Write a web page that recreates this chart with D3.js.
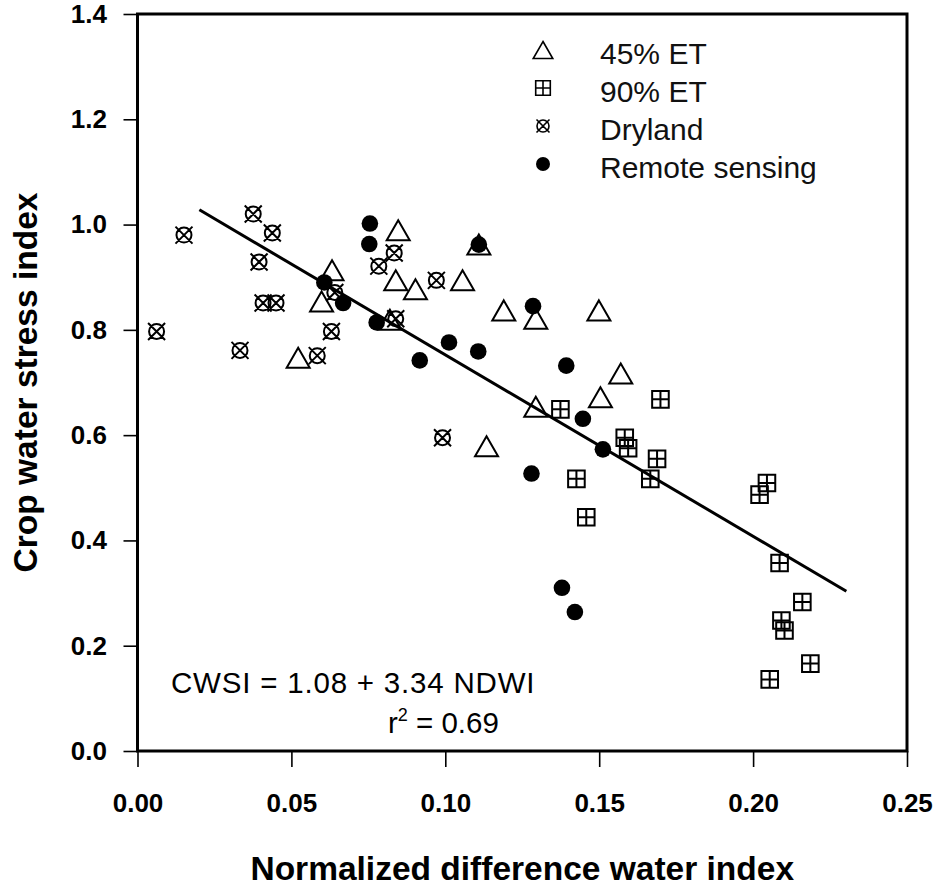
<!DOCTYPE html>
<html>
<head>
<meta charset="utf-8">
<script src="https://cdn.jsdelivr.net/npm/d3@7"></script>
<style>
  body { margin: 0; background: #fff; }
  svg { display: block; font-family: "Liberation Sans", Arial, sans-serif; }
</style>
</head>
<body>
<svg width="939" height="888"></svg>
<script>
const svg = d3.select("svg");

// Data: [NDWI, CWSI]
const et45 = [
  [0.0522, 0.747], [0.0598, 0.854], [0.0632, 0.913], [0.0820, 0.819],
  [0.0839, 0.894], [0.0847, 0.989], [0.0903, 0.877], [0.1056, 0.894],
  [0.1109, 0.962], [0.1190, 0.837], [0.1294, 0.821], [0.1294, 0.654],
  [0.1134, 0.579], [0.1499, 0.837], [0.1570, 0.717], [0.1504, 0.672]
];
const et90 = [
  [0.1374, 0.649], [0.1426, 0.517], [0.1458, 0.444], [0.1583, 0.595],
  [0.1594, 0.575], [0.1699, 0.668], [0.1688, 0.555], [0.1666, 0.517],
  [0.2021, 0.487], [0.2045, 0.509], [0.2086, 0.357], [0.2160, 0.283],
  [0.2092, 0.248], [0.2102, 0.229], [0.2186, 0.166], [0.2054, 0.136]
];
const dryland = [
  [0.0062, 0.797], [0.0151, 0.980], [0.0333, 0.761], [0.0376, 1.020],
  [0.0395, 0.929], [0.0408, 0.851], [0.0450, 0.851], [0.0438, 0.984],
  [0.0584, 0.751], [0.0630, 0.797], [0.0641, 0.871], [0.0784, 0.921],
  [0.0834, 0.946], [0.0839, 0.821], [0.0971, 0.894], [0.0991, 0.595]
];
const remote = [
  [0.0607, 0.890], [0.0668, 0.851], [0.0755, 1.002], [0.0753, 0.963],
  [0.0777, 0.814], [0.0917, 0.742], [0.1012, 0.776], [0.1107, 0.759],
  [0.1109, 0.962], [0.1285, 0.845], [0.1280, 0.527], [0.1393, 0.732],
  [0.1447, 0.631], [0.1512, 0.573], [0.1379, 0.310], [0.1421, 0.264]
];

// regression line end points as drawn
const fitX = [0.0201, 0.2303];
const fitY = [1.028, 0.3035];

const xTicks = [0, 0.05, 0.10, 0.15, 0.20, 0.25];
const yTicks = [0, 0.2, 0.4, 0.6, 0.8, 1.0, 1.2, 1.4];
const legendLabels = ["45% ET", "90% ET", "Dryland", "Remote sensing"];

const mLeft = 137.5, mRight = 907, mTop = 14, mBottom = 751;

const x = d3.scaleLinear().domain([0, 0.25]).range([mLeft, mRight]);
const y = d3.scaleLinear().domain([0, 1.4]).range([mBottom, mTop]);

// axes
const xAxis = svg.append("g")
  .attr("transform", `translate(0,${mBottom})`)
  .call(d3.axisBottom(x).tickValues(xTicks).tickFormat(d3.format(".2f"))
    .tickSize(16).tickSizeOuter(0).tickPadding(27));
const yAxis = svg.append("g")
  .attr("transform", `translate(${mLeft},0)`)
  .call(d3.axisLeft(y).tickValues(yTicks).tickFormat(d3.format(".1f"))
    .tickSize(14).tickSizeOuter(0).tickPadding(16.5));

[xAxis, yAxis].forEach(a => {
  a.select(".domain").remove();
  a.selectAll(".tick line").attr("stroke", "#000").attr("stroke-width", 1.6);
  a.selectAll("text")
    .attr("fill", "#000")
    .style("font-family", '"Liberation Sans", Arial, sans-serif')
    .style("font-size", "26px")
    .style("font-weight", "bold");
});

// frame
svg.append("rect")
  .attr("x", mLeft).attr("y", mTop)
  .attr("width", mRight - mLeft).attr("height", mBottom - mTop)
  .attr("fill", "none").attr("stroke", "#000").attr("stroke-width", 3);

// axis titles
svg.append("text")
  .attr("x", (mLeft + mRight) / 2).attr("y", 880)
  .attr("text-anchor", "middle")
  .style("font-size", "33.5px").style("font-weight", "bold")
  .text("Normalized difference water index");

svg.append("text")
  .attr("transform", `translate(37,${(mTop + mBottom) / 2}) rotate(-90)`)
  .attr("text-anchor", "middle")
  .style("font-size", "33.5px").style("font-weight", "bold")
  .text("Crop water stress index");

// marker shapes, h = half size
function triPath(h) {
  const w = h * 1.15;
  return `M0,${-h}L${w},${h}L${-w},${h}Z`;
}
function sqPath(h) {
  return `M${-h},${-h}H${h}V${h}H${-h}Z M0,${-h}V${h} M${-h},0H${h}`;
}
function dryPath(r, k) {
  return `M${r},0A${r},${r} 0 1,1 ${-r},0A${r},${r} 0 1,1 ${r},0Z` +
    ` M${-k},${-k}L${k},${k} M${-k},${k}L${k},${-k}`;
}

function drawSeries(data, path, filled) {
  svg.append("g").selectAll("path")
    .data(data)
    .join("path")
    .attr("transform", d => `translate(${x(d[0])},${y(d[1])})`)
    .attr("d", path)
    .attr("fill", filled ? "#000" : "none")
    .attr("stroke", "#000")
    .attr("stroke-width", filled ? 0 : 2);
}

drawSeries(et45, triPath(10), false);
drawSeries(et90, sqPath(8.3), false);
drawSeries(dryland, dryPath(7.5, 8.5), false);
drawSeries(remote, d3.symbol(d3.symbolCircle, Math.PI * 8.3 * 8.3)(), true);

// regression line
svg.append("line")
  .attr("x1", x(fitX[0])).attr("y1", y(fitY[0]))
  .attr("x2", x(fitX[1])).attr("y2", y(fitY[1]))
  .attr("stroke", "#000").attr("stroke-width", 3);

// legend
const legendShapes = [
  { d: triPath(8.5), filled: false },
  { d: sqPath(7.3), filled: false },
  { d: dryPath(6, 6.5), filled: false },
  { d: d3.symbol(d3.symbolCircle, Math.PI * 7 * 7)(), filled: true }
];
const legend = svg.append("g");
legendLabels.forEach((lab, i) => {
  const cy = 50 + i * 38;
  legend.append("path")
    .attr("transform", `translate(543,${cy})`)
    .attr("d", legendShapes[i].d)
    .attr("fill", legendShapes[i].filled ? "#000" : "none")
    .attr("stroke", "#000")
    .attr("stroke-width", legendShapes[i].filled ? 0 : 1.6);
  legend.append("text")
    .attr("x", 600).attr("y", cy + 14)
    .style("font-size", "30px")
    .attr("fill", "#111")
    .text(lab);
});

// equation
svg.append("text")
  .attr("x", 171).attr("y", 693)
  .style("font-size", "29.5px")
  .style("letter-spacing", "0.8px")
  .text("CWSI = 1.08 + 3.34 NDWI");

const r2 = svg.append("text")
  .attr("x", 388).attr("y", 733)
  .style("font-size", "29.5px");
r2.append("tspan").text("r");
r2.append("tspan").attr("dy", -12).style("font-size", "18px").text("2");
r2.append("tspan").attr("dy", 12).text(" = 0.69");
</script>
</body>
</html>
